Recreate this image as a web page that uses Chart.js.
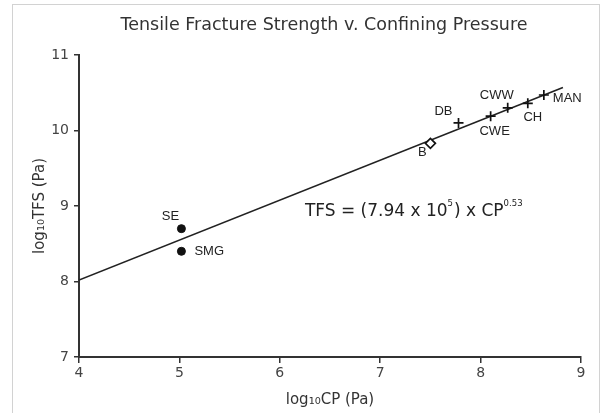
<!DOCTYPE html>
<html><head><meta charset="utf-8">
<script src="https://cdn.jsdelivr.net/npm/chart.js@4.4.0/dist/chart.umd.min.js"></script>
<style>
html,body{margin:0;padding:0;background:#fff;}
#wrap{position:relative;width:610px;height:413px;overflow:hidden;}
#frame{position:absolute;left:12px;top:4px;width:588px;height:440px;border:1px solid #d2d2d2;box-sizing:border-box;}
canvas{position:absolute;left:0;top:0;}
</style></head><body>
<div id="wrap"><div id="frame"></div><canvas id="c" width="610" height="413"></canvas></div>
<script>
// ---- data ----
const sampleNames = ['SE', 'SMG', 'B', 'DB', 'CWE', 'CWW', 'CH', 'MAN'];
const logCP  = [5.02, 5.02, 7.50, 7.78, 8.10, 8.27, 8.47, 8.63];
const logTFS = [8.70, 8.40, 9.83, 10.10, 10.19, 10.30, 10.36, 10.47];
const fitX = [4.0, 8.82];
const fitY = [8.02, 10.57];
const xTicks = [4, 5, 6, 7, 8, 9];
const yTicks = [7, 8, 9, 10, 11];
const titleText = 'Tensile Fracture Strength v. Confining Pressure';
const xTitle = 'log\u2081\u2080CP (Pa)';
const yTitle = 'log\u2081\u2080TFS (Pa)';

// ---- styling (kept separate from data) ----
const markerKind = {SE:'circle', SMG:'circle', B:'rectRot', DB:'cross', CWE:'cross', CWW:'cross', CH:'cross', MAN:'cross'};
const labelLayout = {
  SE:  {dx:-11, dy:-12, align:'center'},
  SMG: {dx: 13, dy:  0, align:'left'},
  B:   {dx: -8, dy:  9, align:'center'},
  DB:  {dx:-15, dy:-12, align:'center'},
  CWE: {dx:  4, dy: 15, align:'center'},
  CWW: {dx:-11, dy:-12, align:'center'},
  CH:  {dx:  5, dy: 14, align:'center'},
  MAN: {dx:  9, dy:  3, align:'left'}
};
const FONT = "'DejaVu Sans', sans-serif";
const LFONT = "'Liberation Sans', Arial, sans-serif";

const points = logCP.map((x, i) => ({x: x, y: logTFS[i]}));
const fitLine = fitX.map((x, i) => ({x: x, y: fitY[i]}));

const titlePlugin = {
  id: 'customTitle',
  afterDraw(chart) {
    const ctx = chart.ctx;
    ctx.save();
    ctx.font = '17.5px ' + FONT;
    ctx.fillStyle = '#333';
    ctx.textAlign = 'center';
    ctx.textBaseline = 'middle';
    ctx.fillText(titleText, 324, 25);
    ctx.restore();
  }
};

const labelPlugin = {
  id: 'pointLabels',
  afterDatasetsDraw(chart) {
    const ctx = chart.ctx;
    const meta = chart.getDatasetMeta(1);
    ctx.save();
    ctx.font = '13px ' + LFONT;
    ctx.fillStyle = '#222';
    ctx.textBaseline = 'middle';
    meta.data.forEach((el, i) => {
      const name = sampleNames[i];
      const L = labelLayout[name];
      ctx.textAlign = L.align;
      ctx.fillText(name, el.x + L.dx, el.y + L.dy);
    });
    ctx.restore();
  }
};

const equationPlugin = {
  id: 'equation',
  afterDatasetsDraw(chart) {
    const ctx = chart.ctx;
    const xs = chart.scales.x, ys = chart.scales.y;
    let x = xs.getPixelForValue(6.25);
    const y = ys.getPixelForValue(8.93);
    ctx.save();
    ctx.fillStyle = '#222';
    ctx.textBaseline = 'middle';
    ctx.textAlign = 'left';
    const parts = [
      {t:'TFS = (7.94 x 10', s:17, dy:0},
      {t:'5', s:8.5, dy:-7},
      {t:') x CP', s:17, dy:0},
      {t:'0.53', s:8.5, dy:-7}
    ];
    parts.forEach(p => {
      ctx.font = p.s + 'px ' + FONT;
      ctx.fillText(p.t, x, y + p.dy);
      x += ctx.measureText(p.t).width + (p.s < 10 ? 1 : 0);
    });
    ctx.restore();
  }
};

new Chart(document.getElementById('c'), {
  type: 'scatter',
  data: {
    datasets: [
      {
        data: fitLine,
        showLine: true,
        borderColor: '#222',
        borderWidth: 1.6,
        pointRadius: 0,
        order: 2
      },
      {
        data: points,
        order: 1,
        pointStyle: ctx => markerKind[sampleNames[ctx.dataIndex]],
        pointRadius: ctx => {
          const k = markerKind[sampleNames[ctx.dataIndex]];
          return k === 'circle' ? 4 : 5;
        },
        backgroundColor: ctx => markerKind[sampleNames[ctx.dataIndex]] === 'rectRot' ? '#fff' : '#111',
        borderColor: '#111',
        borderWidth: ctx => markerKind[sampleNames[ctx.dataIndex]] === 'circle' ? 1 : 1.7
      }
    ]
  },
  options: {
    responsive: false,
    animation: false,
    layout: {padding: {left: 0, right: 29, top: 55, bottom: 0}},
    plugins: {
      legend: {display: false},
      tooltip: {enabled: false},
      title: {display: false}
    },
    scales: {
      x: {
        type: 'linear',
        min: 4, max: 9,
        afterBuildTicks: s => { s.ticks = xTicks.map(v => ({value: v})); },
        afterFit: s => { s.height = 56; },
        grid: {drawOnChartArea: false, drawTicks: true, tickLength: 6, color: '#333', lineWidth: 1.5},
        border: {display: true, color: '#333', width: 2},
        ticks: {color: '#444', font: {family: FONT, size: 14}, padding: 2},
        title: {display: true, text: xTitle, color: '#333', font: {family: FONT, size: 15, lineHeight: 1.2}, padding: {top: 0, bottom: 4}}
      },
      y: {
        type: 'linear',
        min: 7, max: 11,
        afterBuildTicks: s => { s.ticks = yTicks.map(v => ({value: v})); },
        afterFit: s => { s.width = 79; },
        grid: {drawOnChartArea: false, drawTicks: true, tickLength: 5, color: '#333', lineWidth: 1.5},
        border: {display: true, color: '#333', width: 2},
        ticks: {color: '#444', font: {family: FONT, size: 14}, padding: 5},
        title: {display: true, text: yTitle, color: '#333', font: {family: FONT, size: 15, lineHeight: 1.2}, padding: {top: 31, bottom: 0}}
      }
    }
  },
  plugins: [labelPlugin, equationPlugin, titlePlugin]
});
</script>
</body></html>
